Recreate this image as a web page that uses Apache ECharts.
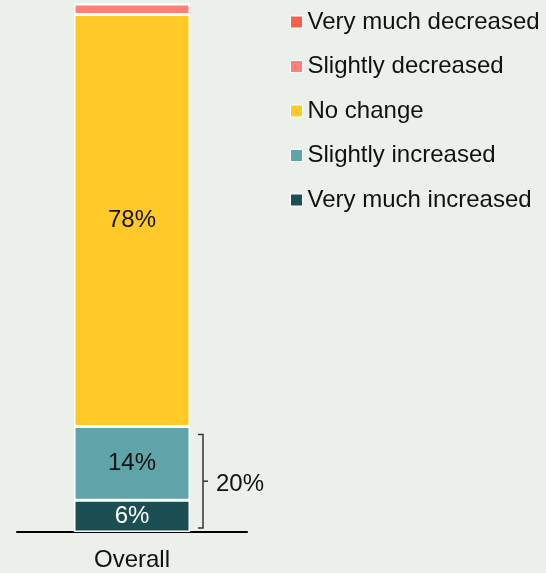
<!DOCTYPE html>
<html>
<head>
<meta charset="utf-8">
<style>
  html, body { margin: 0; padding: 0; background: #EBF0EA; }
  #chart { width: 546px; height: 573px; }
</style>
<script src="https://cdn.jsdelivr.net/npm/echarts@6/dist/echarts.min.js"></script>
</head>
<body>
<div id="chart"></div>
<script>
// Share of respondents by change, single stacked column
const categories = ['Overall'];
const seriesNames = ['Very much increased', 'Slightly increased', 'No change', 'Slightly decreased', 'Very much decreased'];
const veryMuchIncreased = [6];
const slightlyIncreased = [14];
const noChange = [78];
const slightlyDecreased = [2];
const veryMuchDecreased = [0];
const seriesValues = [veryMuchIncreased, slightlyIncreased, noChange, slightlyDecreased, veryMuchDecreased];
const seriesColors = ['#1B4F53', '#5FA4A9', '#FFCA28', '#FF8077', '#FA5F4A'];
const labelColors = ['#FFFFFF', '#111111', '#111111', '#111111', '#111111'];
const showLabel = [true, true, true, false, false];

// Combined "increased" total shown beside the bracket
const increasedTotal = veryMuchIncreased[0] + slightlyIncreased[0];

const FONT = 'Liberation Sans';
const FONT_SIZE = 24;
const BAR_WIDTH = 116;

const barSeries = seriesNames.map((name, i) => ({
  name: name,
  type: 'bar',
  stack: 'total',
  data: seriesValues[i],
  barWidth: BAR_WIDTH,
  itemStyle: { color: seriesColors[i], borderColor: '#FFFFFF', borderWidth: 1.5 },
  label: {
    show: showLabel[i],
    position: 'inside',
    formatter: '{c}%',
    color: labelColors[i],
    fontFamily: FONT,
    fontSize: FONT_SIZE
  },
  emphasis: { disabled: true }
}));

// Bracket spanning the two "increased" segments
const bracketSeries = {
  type: 'custom',
  name: 'bracket',
  clip: false,
  silent: true,
  z: 5,
  data: [[0, increasedTotal]],
  renderItem: function (params, api) {
    const base = api.coord([api.value(0), 0]);
    const top = api.coord([api.value(0), api.value(1)]);
    const x = base[0] + BAR_WIDTH / 2 + 13;
    const y1 = top[1] + 8;
    const y2 = base[1] - 4;
    const ym = (y1 + y2) / 2;
    const stroke = { stroke: '#333333', lineWidth: 1.5, fill: null };
    return {
      type: 'group',
      children: [
        { type: 'polyline', shape: { points: [[x - 5, y1], [x, y1], [x, y2], [x - 5, y2]] }, style: stroke },
        { type: 'line', shape: { x1: x, y1: ym, x2: x + 5, y2: ym }, style: stroke },
        {
          type: 'text',
          style: {
            x: x + 13, y: ym + 3,
            text: api.value(1) + '%',
            fill: '#111111',
            font: FONT_SIZE + 'px "' + FONT + '"',
            align: 'left',
            verticalAlign: 'middle'
          }
        }
      ]
    };
  }
};

const chart = echarts.init(document.getElementById('chart'));
chart.setOption({
  backgroundColor: '#EBF0EA',
  animation: false,
  textStyle: { fontFamily: FONT },
  grid: { left: 17, right: 299, top: 4, bottom: 41, containLabel: false },
  legend: {
    data: seriesNames.slice().reverse(),
    orient: 'vertical',
    left: 290,
    top: 9,
    padding: 0,
    icon: 'rect',
    itemWidth: 12,
    itemHeight: 12,
    itemGap: 18.5,
    itemStyle: { borderColor: '#FFFFFF', borderWidth: 1 },
    textStyle: { fontFamily: FONT, fontSize: FONT_SIZE, color: '#111111', lineHeight: 26 },
    selectedMode: false
  },
  xAxis: {
    type: 'category',
    data: categories,
    axisLine: { lineStyle: { color: '#000000', width: 2 } },
    axisTick: { show: false },
    axisLabel: { color: '#111111', fontFamily: FONT, fontSize: FONT_SIZE, margin: 16 }
  },
  yAxis: {
    type: 'value',
    min: 0,
    max: 100,
    show: false
  },
  series: barSeries.concat([bracketSeries])
});
</script>
</body>
</html>
